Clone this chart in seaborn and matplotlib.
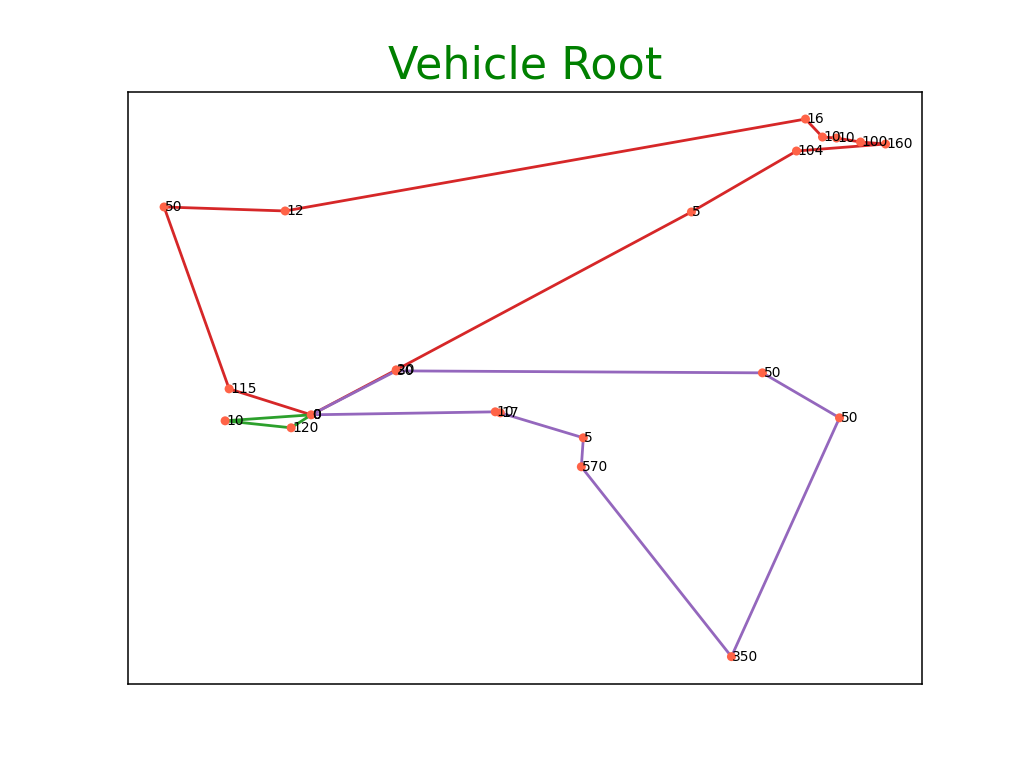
import pandas as pd
import numpy as np
import matplotlib
matplotlib.use("Agg")
import matplotlib.pyplot as plt
import seaborn as sns

sns.set_style("white")

# node positions (x, y) and their demand labels
node_x = [311, 229, 164, 285, 805, 822, 836, 860, 885, 796, 691, 396, 396,
          762, 839, 731, 581, 583, 500, 495, 225, 291]
node_y = [353, 379, 561, 557, 649, 631, 630, 626, 624, 617, 556, 398, 397,
          395, 350, 111, 301, 330, 355, 356, 347, 340]
labels = ["0", "115", "50", "12", "16", "10", "10", "100", "160", "104", "5",
          "20", "30", "50", "50", "350", "570", "5", "17", "10", "10", "120"]

# routes as node order, one per vehicle
routes = [
    [0, 1, 2, 3, 4, 5, 6, 7, 8, 9, 10, 11, 0],
    [0, 12, 13, 14, 15, 16, 17, 18, 19, 0],
    [0, 20, 21, 0],
]
route_colors = ["tab:red", "tab:purple", "tab:green"]

nodes = pd.DataFrame({"x": node_x, "y": node_y, "label": labels})

fig, ax = plt.subplots(figsize=(10.24, 7.68), dpi=100)

for r, col in zip(routes, route_colors):
    seg = nodes.iloc[r].reset_index(drop=True)
    sns.lineplot(data=seg, x="x", y="y", sort=False, estimator=None,
                 color=col, linewidth=2, ax=ax, zorder=2)

sns.scatterplot(data=nodes, x="x", y="y", color="tomato", s=42,
                edgecolor="none", ax=ax, zorder=3)

# the depot label is repeated once per route
for r in routes:
    ax.text(node_x[0] + 1, node_y[0], labels[0], va="center", fontsize=10,
            color="black", zorder=4)
for i in range(1, len(labels)):
    ax.text(node_x[i] + 1, node_y[i], labels[i], va="center", fontsize=10,
            color="black", zorder=4)

ax.set_xticks([])
ax.set_yticks([])
ax.set_xlabel("")
ax.set_ylabel("")
for s in ax.spines.values():
    s.set_color("black")
    s.set_linewidth(1.1)
ax.set_title("Vehicle Root", color="green", fontsize=32, pad=10)

plt.savefig("out.png", dpi=100)
